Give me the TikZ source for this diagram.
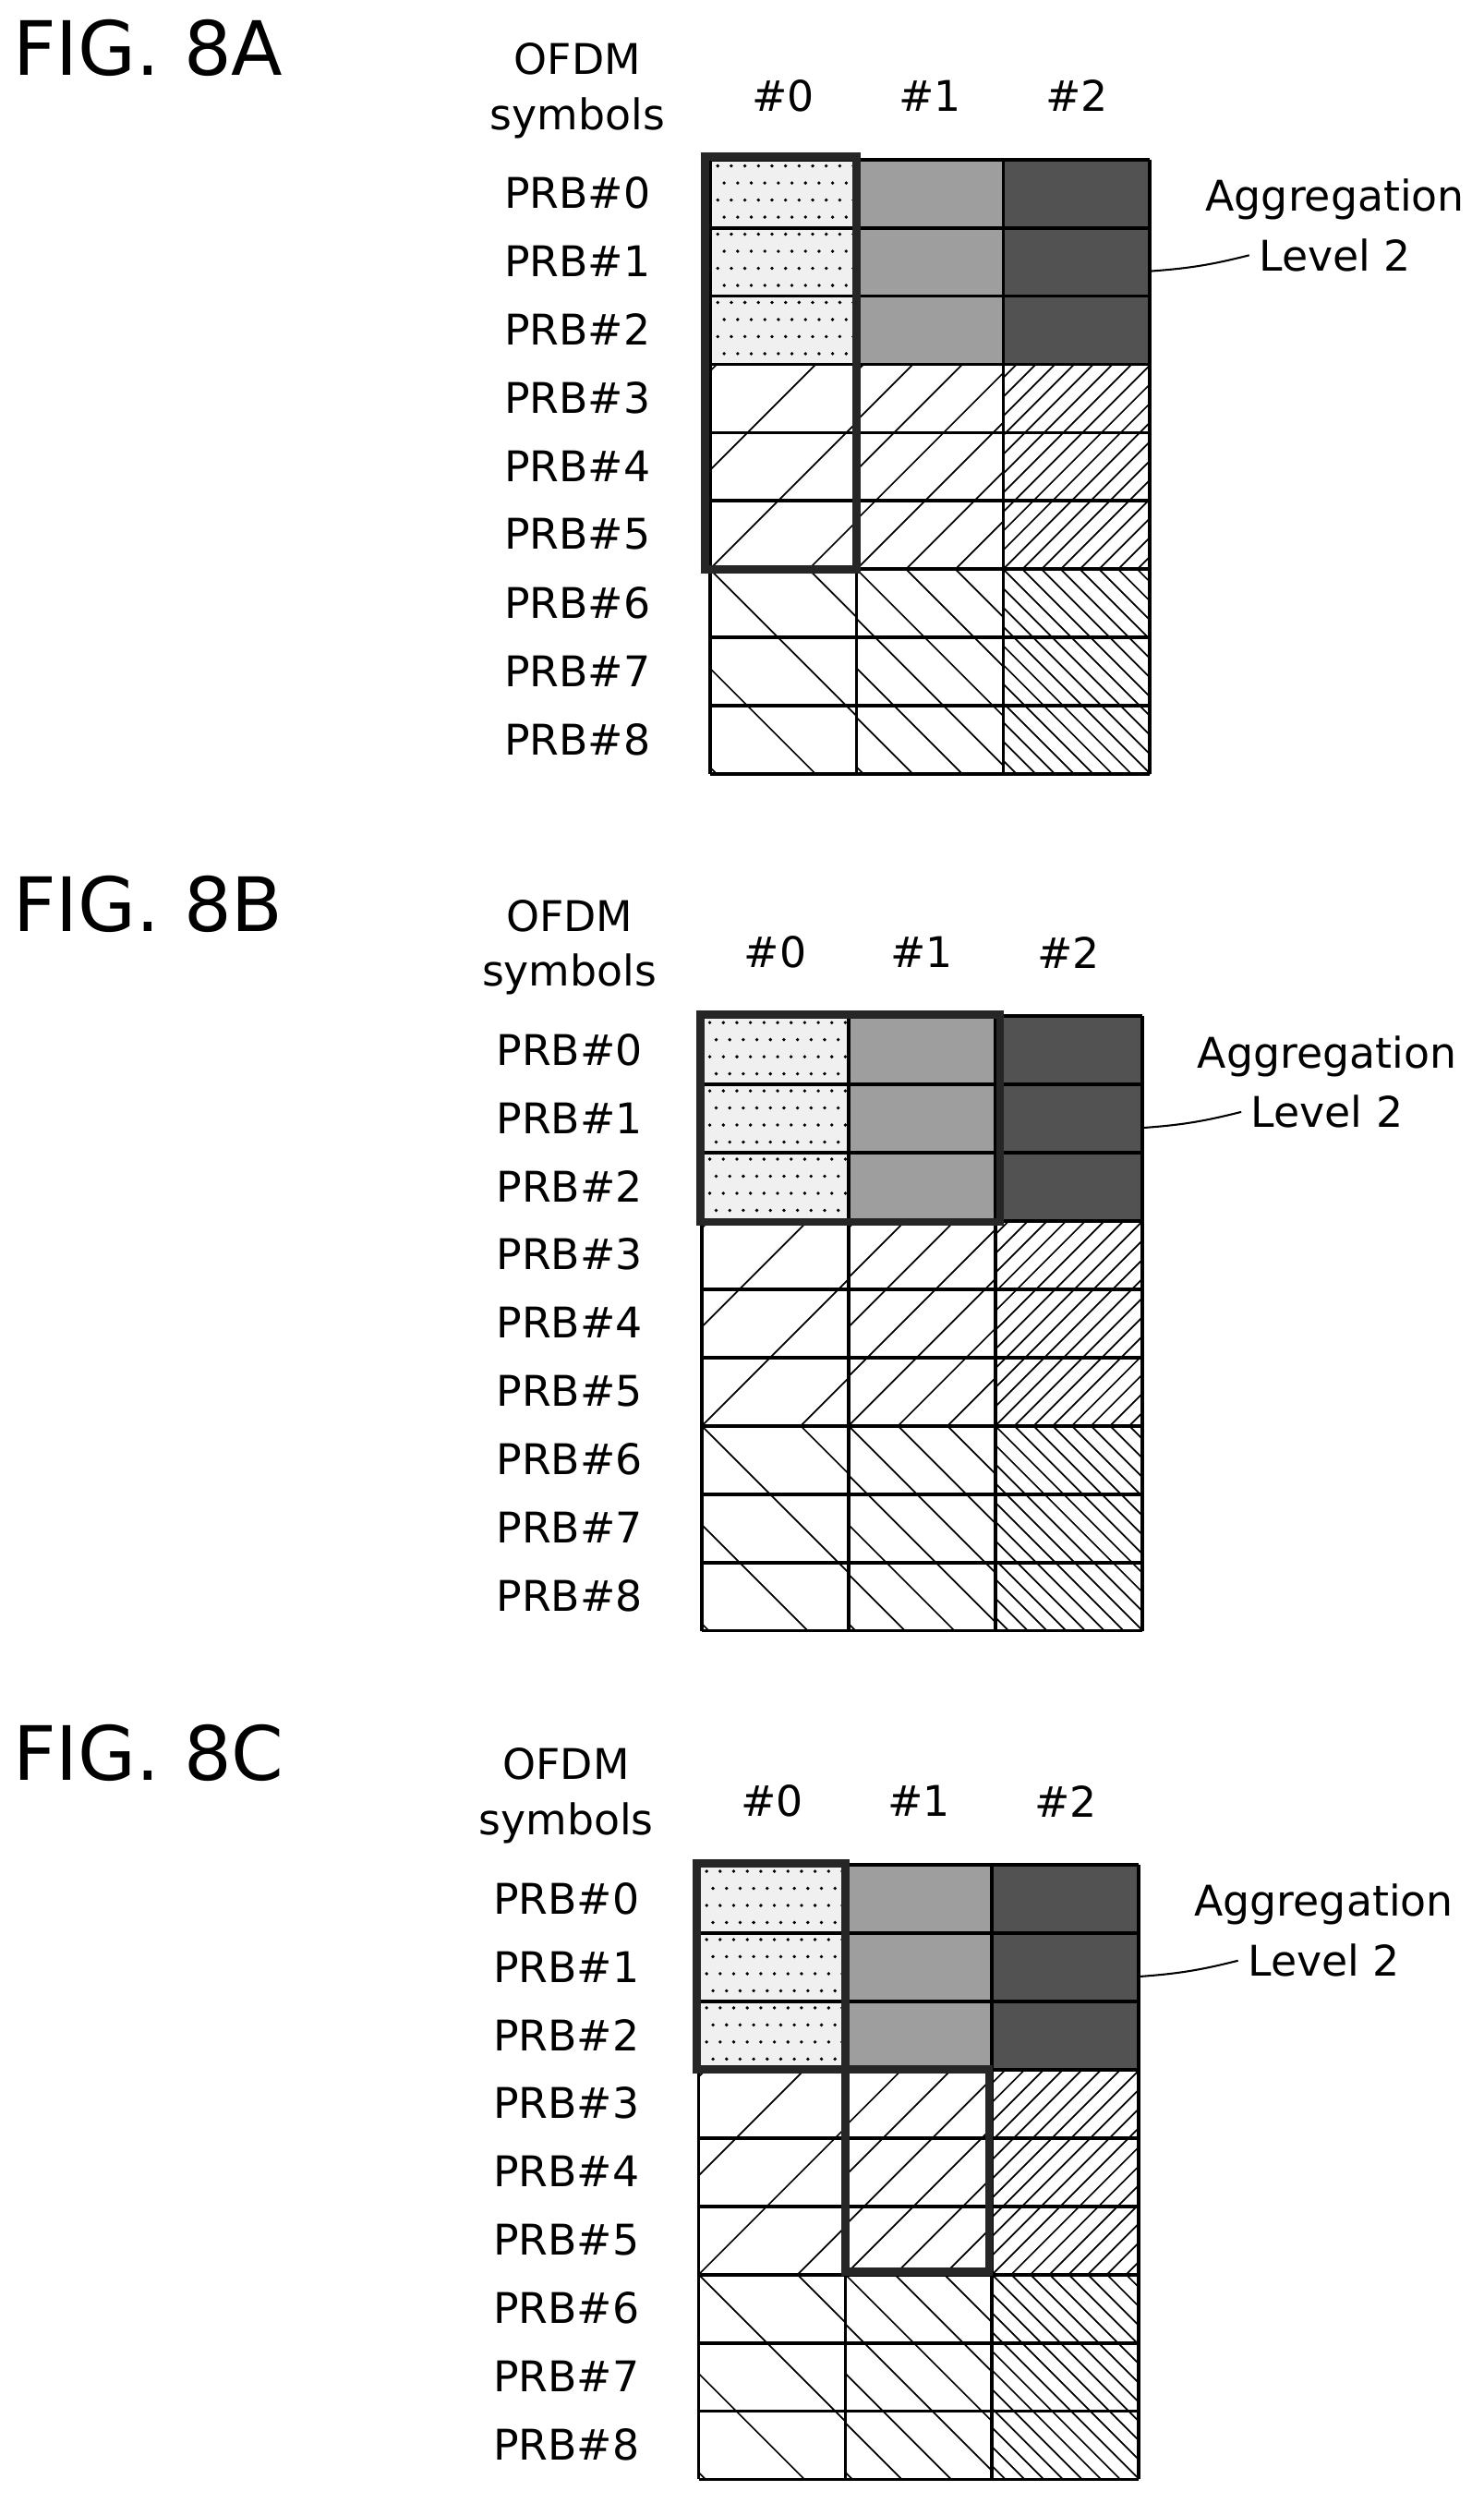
\documentclass[tikz,border=0pt]{standalone}
\usepackage{fontspec}
\setmainfont{DejaVu Sans}
\begin{document}
\begin{tikzpicture}[x=1pt,y=-1pt,
  lab/.style={font=\fontsize{26.5}{28}\selectfont,inner sep=0pt},
  fig/.style={font=\fontsize{47}{50}\selectfont,inner sep=0pt,anchor=west},
  grid/.style={line width=2.2pt},
  thick box/.style={line width=5pt,draw=black!85}]
\useasboundingbox (0,0) rectangle (930,1569);
\def\cw{92}\def\ch{42.8}
% #1 panel id, #2 grid x, #3 grid y, #4 fig label
\newcommand\panel[4]{%
 \begin{scope}[shift={(#2,#3)}]
  \fill[black!6] (0,0) rectangle (\cw,3*\ch);
  \foreach \i in {0,...,10}{\foreach \j in {0,...,11}{
    \fill ({5+\i*8.5+mod(\j,2)*4},{4+\j*10.7}) circle (1.1);}}
  \fill[black!38] (\cw,0) rectangle (2*\cw,3*\ch);
  \fill[black!68] (2*\cw,0) rectangle (3*\cw,3*\ch);
  \foreach \c/\s in {0/62,1/31,2/12}{
    \begin{scope}
      \clip (\c*\cw,3*\ch) rectangle ({(\c+1)*\cw},6*\ch);
      \foreach \k in {-25,...,20}{\draw[line width=1pt] ({\c*\cw+\k*\s-150},{6*\ch+150}) -- ++(300,-300);}
    \end{scope}
    \begin{scope}
      \clip (\c*\cw,6*\ch) rectangle ({(\c+1)*\cw},9*\ch);
      \foreach \k in {-25,...,20}{\draw[line width=1pt] ({\c*\cw+\k*\s-150},{6*\ch-150}) -- ++(300,300);}
    \end{scope}}
  \foreach \r in {0,...,9}{\draw[grid] (0,\r*\ch) -- (3*\cw,\r*\ch);}
  \foreach \c in {0,...,3}{\draw[grid] (\c*\cw,0) -- (\c*\cw,9*\ch);}
  \foreach \r in {0,...,8}{\node[lab] (p#1\r) at (-83,{\r*\ch+21}) {PRB\#\r};}
  \foreach \c in {0,1,2}{\node[lab] (h#1\c) at ({\c*\cw+46},-40) {\#\c};}
  \node[lab] (o#1) at (-83,-63) {OFDM};
  \node[lab] (s#1) at (-83,-26) {symbols};
  \node[lab] (a#1) at (392,25) {Aggregation};
  \node[lab] (l#1) at (392,60) {Level 2};
  \coordinate (e#1) at (3*\cw,70);
  \draw[line width=1.2pt] (e#1) to[bend right=5] ([xshift=-6pt]l#1.west);
 \end{scope}
 \node[fig] (f#1) at (8,{#3-70}) {#4};}
\panel{a}{445}{100}{FIG. 8A}
\panel{b}{440}{637}{FIG. 8B}
\panel{c}{438}{1169}{FIG. 8C}
\draw[thick box] (442,98) rectangle (537,357);
\draw[thick box] (439,636) rectangle (627,766);
\draw[thick box] (437,1168) rectangle (530,1297);
\draw[thick box] (530,1297) rectangle (620,1424);
\end{tikzpicture}
\end{document}
